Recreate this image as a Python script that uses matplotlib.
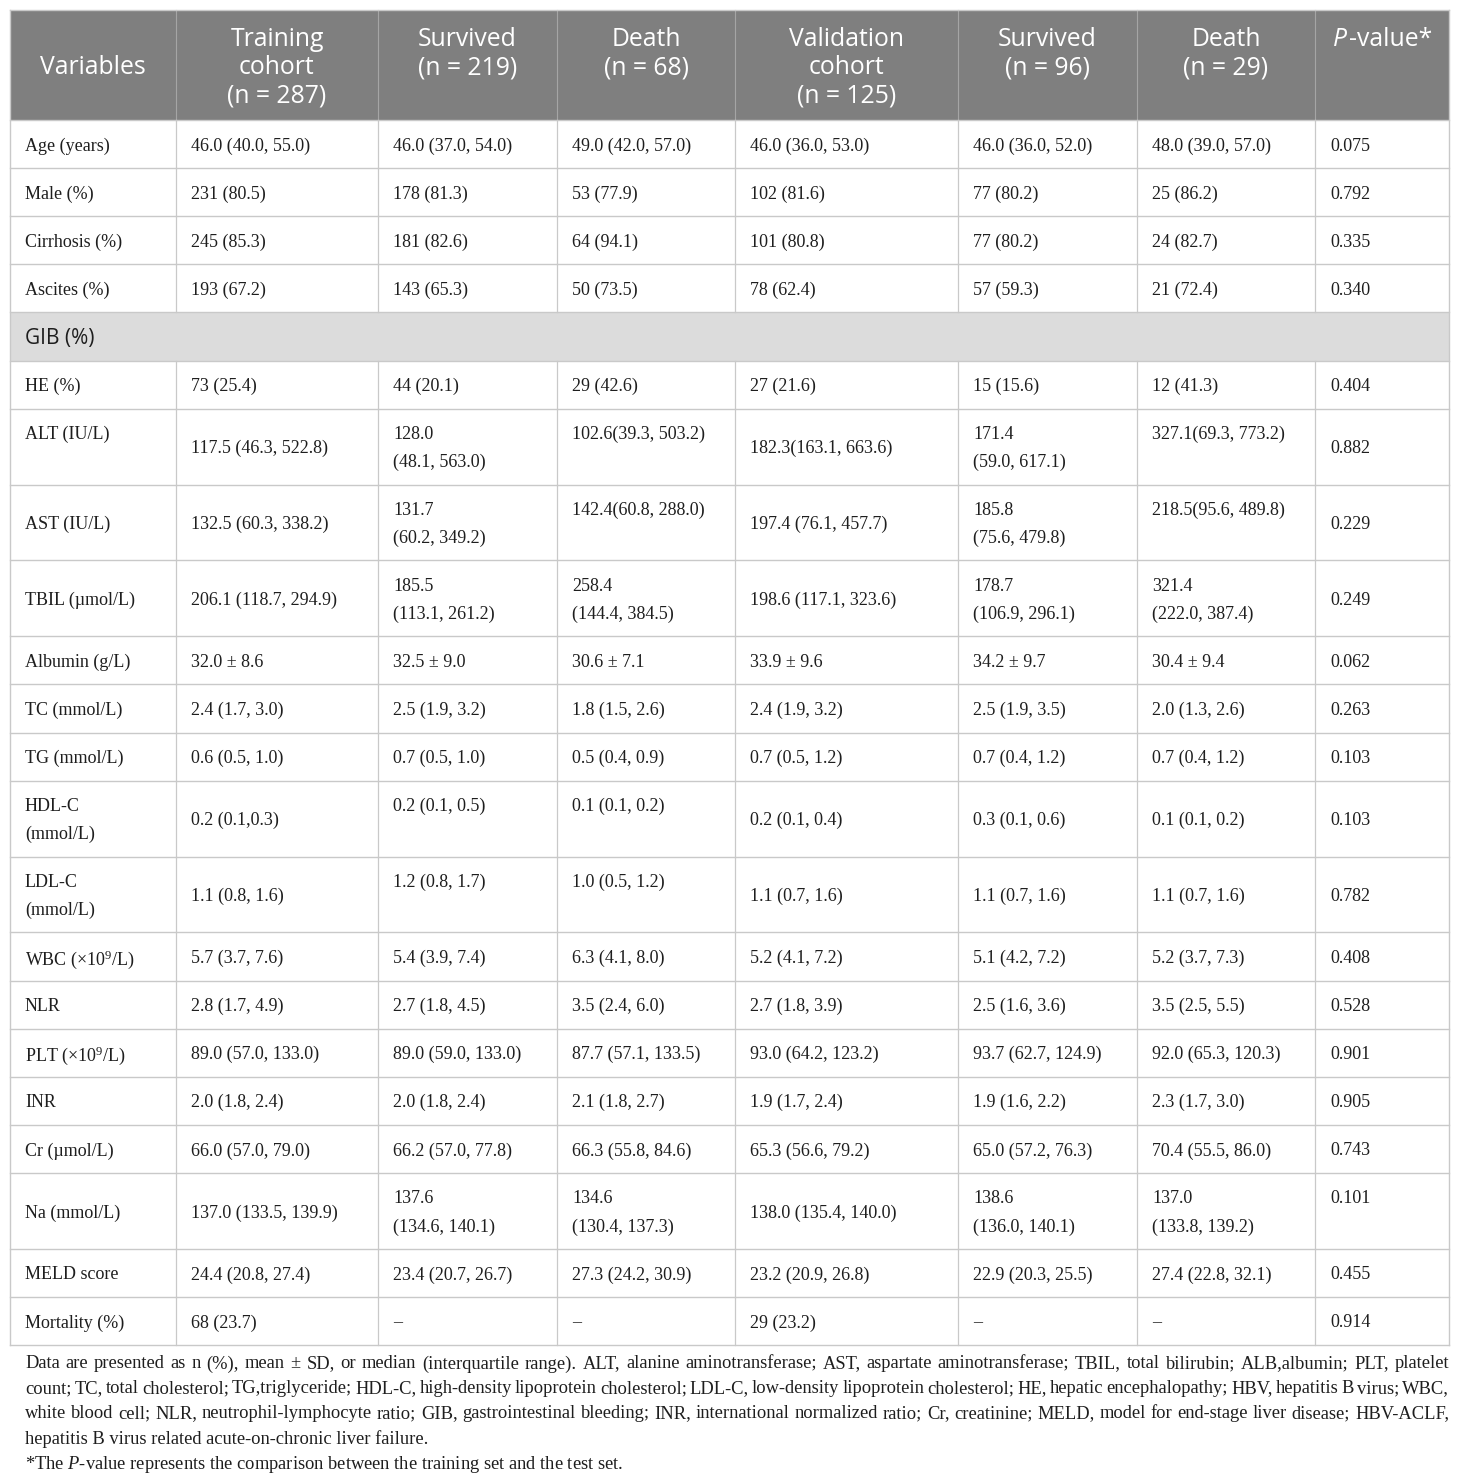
import matplotlib
matplotlib.use("Agg")
import matplotlib.pyplot as plt
from matplotlib.patches import Rectangle

plt.rcParams["mathtext.fontset"] = "custom"
plt.rcParams["mathtext.rm"] = "Liberation Serif"
plt.rcParams["mathtext.it"] = "Liberation Serif:italic"

# ---- table content ----
header = ["Variables", "Training\ncohort\n(n = 287)", "Survived\n(n = 219)\n", "Death\n(n = 68)\n",
          "Validation\ncohort\n(n = 125)", "Survived\n(n = 96)\n", "Death\n(n = 29)\n", "P-value*\n\n"]

variables = ["Age (years)", "Male (%)", "Cirrhosis (%)", "Ascites (%)", "GIB (%)", "HE (%)",
             "ALT (IU/L)\n", "AST (IU/L)", "TBIL (µmol/L)", "Albumin (g/L)", "TC (mmol/L)",
             "TG (mmol/L)", "HDL-C\n(mmol/L)", "LDL-C\n(mmol/L)", r"WBC (×10$^{9}$/L)", "NLR",
             r"PLT (×10$^{9}$/L)", "INR", "Cr (µmol/L)", "Na (mmol/L)", "MELD score", "Mortality (%)"]

training = ["46.0 (40.0, 55.0)", "231 (80.5)", "245 (85.3)", "193 (67.2)", "", "73 (25.4)",
            "117.5 (46.3, 522.8)", "132.5 (60.3, 338.2)", "206.1 (118.7, 294.9)", "32.0 ± 8.6",
            "2.4 (1.7, 3.0)", "0.6 (0.5, 1.0)", "0.2 (0.1,0.3)", "1.1 (0.8, 1.6)", "5.7 (3.7, 7.6)",
            "2.8 (1.7, 4.9)", "89.0 (57.0, 133.0)", "2.0 (1.8, 2.4)", "66.0 (57.0, 79.0)",
            "137.0 (133.5, 139.9)", "24.4 (20.8, 27.4)", "68 (23.7)"]

train_survived = ["46.0 (37.0, 54.0)", "178 (81.3)", "181 (82.6)", "143 (65.3)", "", "44 (20.1)",
                  "128.0\n(48.1, 563.0)", "131.7\n(60.2, 349.2)", "185.5\n(113.1, 261.2)", "32.5 ± 9.0",
                  "2.5 (1.9, 3.2)", "0.7 (0.5, 1.0)", "0.2 (0.1, 0.5)\n", "1.2 (0.8, 1.7)\n",
                  "5.4 (3.9, 7.4)", "2.7 (1.8, 4.5)", "89.0 (59.0, 133.0)", "2.0 (1.8, 2.4)",
                  "66.2 (57.0, 77.8)", "137.6\n(134.6, 140.1)", "23.4 (20.7, 26.7)", "–"]

train_death = ["49.0 (42.0, 57.0)", "53 (77.9)", "64 (94.1)", "50 (73.5)", "", "29 (42.6)",
               "102.6(39.3, 503.2)\n", "142.4(60.8, 288.0)\n", "258.4\n(144.4, 384.5)", "30.6 ± 7.1",
               "1.8 (1.5, 2.6)", "0.5 (0.4, 0.9)", "0.1 (0.1, 0.2)\n", "1.0 (0.5, 1.2)\n",
               "6.3 (4.1, 8.0)", "3.5 (2.4, 6.0)", "87.7 (57.1, 133.5)", "2.1 (1.8, 2.7)",
               "66.3 (55.8, 84.6)", "134.6\n(130.4, 137.3)", "27.3 (24.2, 30.9)", "–"]

validation = ["46.0 (36.0, 53.0)", "102 (81.6)", "101 (80.8)", "78 (62.4)", "", "27 (21.6)",
              "182.3(163.1, 663.6)", "197.4 (76.1, 457.7)", "198.6 (117.1, 323.6)", "33.9 ± 9.6",
              "2.4 (1.9, 3.2)", "0.7 (0.5, 1.2)", "0.2 (0.1, 0.4)", "1.1 (0.7, 1.6)", "5.2 (4.1, 7.2)",
              "2.7 (1.8, 3.9)", "93.0 (64.2, 123.2)", "1.9 (1.7, 2.4)", "65.3 (56.6, 79.2)",
              "138.0 (135.4, 140.0)", "23.2 (20.9, 26.8)", "29 (23.2)"]

val_survived = ["46.0 (36.0, 52.0)", "77 (80.2)", "77 (80.2)", "57 (59.3)", "", "15 (15.6)",
                "171.4\n(59.0, 617.1)", "185.8\n(75.6, 479.8)", "178.7\n(106.9, 296.1)", "34.2 ± 9.7",
                "2.5 (1.9, 3.5)", "0.7 (0.4, 1.2)", "0.3 (0.1, 0.6)", "1.1 (0.7, 1.6)", "5.1 (4.2, 7.2)",
                "2.5 (1.6, 3.6)", "93.7 (62.7, 124.9)", "1.9 (1.6, 2.2)", "65.0 (57.2, 76.3)",
                "138.6\n(136.0, 140.1)", "22.9 (20.3, 25.5)", "–"]

val_death = ["48.0 (39.0, 57.0)", "25 (86.2)", "24 (82.7)", "21 (72.4)", "", "12 (41.3)",
             "327.1(69.3, 773.2)\n", "218.5(95.6, 489.8)\n", "321.4\n(222.0, 387.4)", "30.4 ± 9.4",
             "2.0 (1.3, 2.6)", "0.7 (0.4, 1.2)", "0.1 (0.1, 0.2)", "1.1 (0.7, 1.6)", "5.2 (3.7, 7.3)",
             "3.5 (2.5, 5.5)", "92.0 (65.3, 120.3)", "2.3 (1.7, 3.0)", "70.4 (55.5, 86.0)",
             "137.0\n(133.8, 139.2)", "27.4 (22.8, 32.1)", "–"]

p_values = ["0.075", "0.792", "0.335", "0.340", "", "0.404", "0.882", "0.229", "0.249", "0.062",
            "0.263", "0.103", "0.103", "0.782", "0.408", "0.528", "0.901", "0.905", "0.743",
            "0.101\n", "0.455", "0.914"]

section_rows = ["GIB (%)"]

footnotes = [
    "Data are presented as n (%), mean ± SD, or median (interquartile range). ALT, alanine aminotransferase; "
    "AST, aspartate aminotransferase; TBIL, total bilirubin; ALB,albumin; PLT, platelet",
    "count; TC, total cholesterol; TG,triglyceride; HDL-C, high-density lipoprotein cholesterol; LDL-C, "
    "low-density lipoprotein cholesterol; HE, hepatic encephalopathy; HBV, hepatitis B virus; WBC,",
    "white blood cell; NLR, neutrophil-lymphocyte ratio; GIB, gastrointestinal bleeding; INR, international "
    "normalized ratio; Cr, creatinine; MELD, model for end-stage liver disease; HBV-ACLF,",
    "hepatitis B virus related acute-on-chronic liver failure.",
    "*The $P$-value represents the comparison between the training set and the test set.",
]

columns = [variables, training, train_survived, train_death, validation, val_survived, val_death, p_values]

# ---- layout (pixels) ----
W, H = 1460, 1484
col_x = [10, 176, 378, 557, 735, 958, 1137, 1315, 1449]
top = 10
header_h = 110
row_single, row_double = 48.1, 75.9
line_pitch = 28
head_pitch = 28
pad = 15

GRID = "#c9c9c9"
HEAD_BG = "#7f7f7f"
BAND_BG = "#dcdcdc"
TXT = "#1e1e1e"
SERIF = "Liberation Serif"
SANS = "Open Sans"
body_size = 13
head_size = 17.8
foot_size = 13.3

fig = plt.figure(figsize=(W / 100, H / 100), dpi=100)
ax = fig.add_axes([0, 0, 1, 1])
ax.set_xlim(0, W)
ax.set_ylim(H, 0)
ax.axis("off")
renderer = fig.canvas.get_renderer()


def text_width(t):
    bb = t.get_window_extent(renderer)
    return bb.width


# header band
ax.add_patch(Rectangle((col_x[0], top), col_x[-1] - col_x[0], header_h, color=HEAD_BG, lw=0))
for x in col_x[1:-1]:
    ax.plot([x, x], [top, top + header_h], color="#a5a5a5", lw=0.8)

for j, label in enumerate(header):
    lines = label.split("\n")
    n = len(lines)
    cx = (col_x[j] + col_x[j + 1]) / 2
    cy = top + header_h / 2
    for i, ln in enumerate(lines):
        if not ln:
            continue
        y = cy + (i - (n - 1) / 2) * head_pitch
        if ln.startswith("P-"):
            t1 = ax.text(0, y, "P", fontsize=head_size, family=SANS, style="italic",
                         color="white", va="center_baseline", ha="left")
            t2 = ax.text(0, y, ln[1:], fontsize=head_size, family=SANS,
                         color="white", va="center_baseline", ha="left")
            w1, w2 = text_width(t1), text_width(t2)
            x0 = cx - (w1 + w2) / 2
            t1.set_x(x0)
            t2.set_x(x0 + w1 + 1.5)
        else:
            ax.text(cx, y, ln, fontsize=head_size, family=SANS, color="white",
                    va="center_baseline", ha="center")

# body rows
y0 = top + header_h
row_edges = [y0]
for r in range(len(variables)):
    nlines = max(len(col[r].split("\n")) for col in columns)
    h = row_double if nlines > 1 else row_single
    is_band = variables[r] in section_rows
    if is_band:
        ax.add_patch(Rectangle((col_x[0], y0), col_x[-1] - col_x[0], h, color=BAND_BG, lw=0))
    else:
        for x in col_x[1:-1]:
            ax.plot([x, x], [y0, y0 + h], color=GRID, lw=0.9)
    cy = y0 + h / 2
    for j, col in enumerate(columns):
        cell = col[r]
        if not cell:
            continue
        lines = cell.split("\n")
        n = len(lines)
        for i, ln in enumerate(lines):
            if not ln:
                continue
            y = cy + (i - (n - 1) / 2) * line_pitch
            if is_band:
                ax.text(col_x[j] + pad, y, ln, fontsize=body_size + 2, family=SANS, color=TXT,
                        va="center_baseline", ha="left")
            else:
                ax.text(col_x[j] + pad, y, ln, fontsize=body_size, family=SERIF, color=TXT,
                        va="center_baseline", ha="left")
    y0 += h
    row_edges.append(y0)

for y in row_edges:
    ax.plot([col_x[0], col_x[-1]], [y, y], color=GRID, lw=1.0)
ax.plot([col_x[0], col_x[0]], [top, row_edges[-1]], color=GRID, lw=1.0)
ax.plot([col_x[-1], col_x[-1]], [top, row_edges[-1]], color=GRID, lw=1.0)
ax.plot([col_x[0], col_x[-1]], [top, top], color=GRID, lw=1.0)

# footnotes, first three lines justified to the table width
foot_y = row_edges[-1] + 17
foot_pitch = 25
for k, ln in enumerate(footnotes):
    y = foot_y + k * foot_pitch
    if k < 3:
        words = ln.split(" ")
        arts = [ax.text(0, y, w, fontsize=foot_size, family=SERIF, color=TXT,
                        va="center_baseline", ha="left") for w in words]
        widths = [text_width(a) for a in arts]
        x_start, x_end = col_x[0] + 15, col_x[-1]
        gap = (x_end - x_start - sum(widths)) / (len(words) - 1)
        x = x_start
        for a, w in zip(arts, widths):
            a.set_x(x)
            x += w + gap
    else:
        ax.text(col_x[0] + 15, y, ln, fontsize=foot_size, family=SERIF, color=TXT,
                va="center_baseline", ha="left")

fig.savefig("out.png", dpi=100, facecolor="white")
